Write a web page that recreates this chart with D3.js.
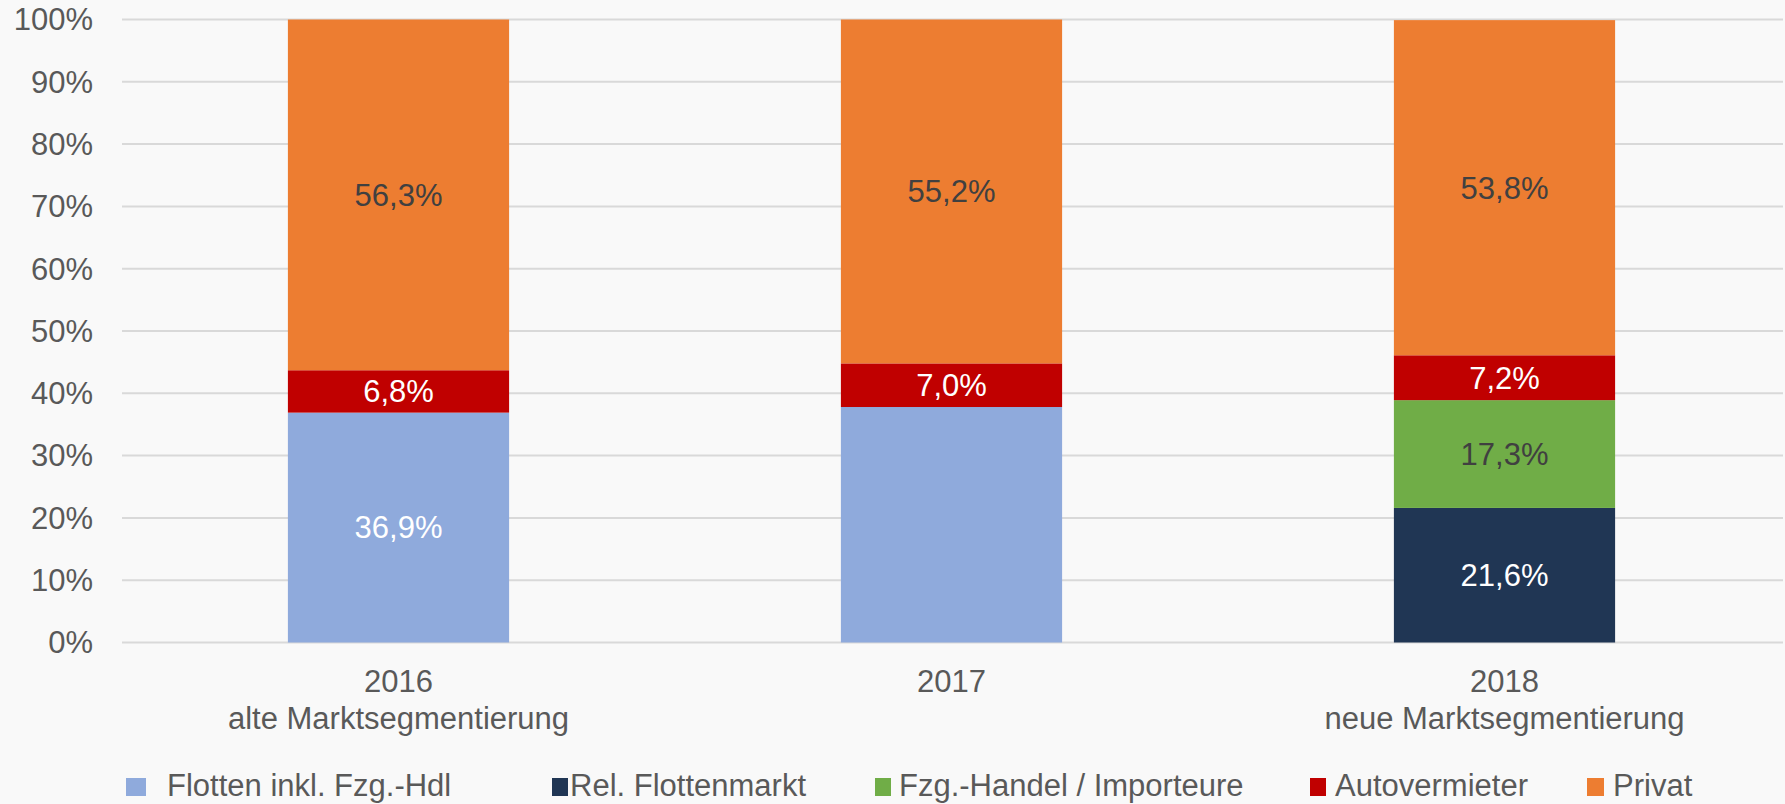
<!DOCTYPE html>
<html>
<head>
<meta charset="utf-8">
<script src="https://cdn.jsdelivr.net/npm/d3@7"></script>
<style>
	html, body { margin: 0; padding: 0; background: #f9f9f9; }
	svg { display: block; font-family: "Liberation Sans", Arial, sans-serif; }
</style>
</head>
<body>
<div id="chart"></div>
<script>

// categories (two lines each)
var years    = ["2016", "2017", "2018"];
var subtitle = ["alte Marktsegmentierung", "", "neue Marktsegmentierung"];

// series, bottom to top
var series   = ["Flotten inkl. Fzg.-Hdl", "Rel. Flottenmarkt", "Fzg.-Handel / Importeure", "Autovermieter", "Privat"];
var flotten  = [36.9, 37.8, 0];
var relFlot  = [0, 0, 21.6];
var handel   = [0, 0, 17.3];
var vermiet  = [6.8, 7.0, 7.2];
var privat   = [56.3, 55.2, 53.8];

var colors     = ["#8faadc", "#203654", "#70ad47", "#c00000", "#ed7d31"];
var labelColor = ["#ffffff", "#ffffff", "#404040", "#ffffff", "#404040"];

// label of the 2017 fleet segment is not shown in the original
var hiddenLabels = [[1, 0]];

var yTicks = [0, 10, 20, 30, 40, 50, 60, 70, 80, 90, 100];

var values = [flotten, relFlot, handel, vermiet, privat];

var width  = 1785,
	height = 804;

var x = d3.scaleBand()
	.domain(years)
	.range([122, 1781])
	.paddingInner(0.6)
	.paddingOuter(0.3);

var y = d3.scaleLinear()
	.domain([0, 100])
	.range([642.5, 19.5]);

var svg = d3.select("#chart")
	.append("svg")
	.attr("width", width)
	.attr("height", height);

// grid lines
svg.append("g")
	.selectAll("line")
	.data(yTicks)
	.join("line")
	.attr("x1", 122)
	.attr("x2", 1783)
	.attr("y1", function(d) { return y(d); })
	.attr("y2", function(d) { return y(d); })
	.attr("stroke", "#d9d9d9")
	.attr("stroke-width", 2);

// y axis labels
svg.append("g")
	.selectAll("text")
	.data(yTicks)
	.join("text")
	.attr("x", 93)
	.attr("y", function(d) { return y(d); })
	.attr("dy", "0.35em")
	.attr("text-anchor", "end")
	.attr("font-size", 31)
	.attr("fill", "#595959")
	.text(function(d) { return d + "%"; });

// stacked segments
var rows = years.map(function(yr, i) {
	var row = { year: yr };
	series.forEach(function(s, k) { row[s] = values[k][i]; });
	return row;
});

var stack = d3.stack().keys(series)(rows);

var layers = svg.append("g")
	.selectAll("g")
	.data(stack)
	.join("g")
	.attr("fill", function(d, k) { return colors[k]; });

layers.selectAll("rect")
	.data(function(d) { return d; })
	.join("rect")
	.filter(function(d) { return d[1] - d[0] > 0; })
	.attr("x", function(d) { return x(d.data.year); })
	.attr("y", function(d) { return y(d[1]); })
	.attr("width", x.bandwidth())
	.attr("height", function(d) { return y(d[0]) - y(d[1]); });

function isHidden(i, k) {
	return hiddenLabels.some(function(h) { return h[0] === i && h[1] === k; });
}

stack.forEach(function(layer, k) {
	layer.forEach(function(d, i) {
		var v = d[1] - d[0];
		if (v <= 0 || isHidden(i, k)) return;
		svg.append("text")
			.attr("x", x(d.data.year) + x.bandwidth() / 2)
			.attr("y", y((d[0] + d[1]) / 2))
			.attr("dy", "0.35em")
			.attr("text-anchor", "middle")
			.attr("font-size", 31)
			.attr("fill", labelColor[k])
			.text(d3.format(".1f")(values[k][i]).replace(".", ",") + "%");
	});
});

// category labels
var cat = svg.append("g")
	.selectAll("text")
	.data(years)
	.join("text")
	.attr("x", function(d) { return x(d) + x.bandwidth() / 2; })
	.attr("y", 692)
	.attr("text-anchor", "middle")
	.attr("font-size", 31)
	.attr("fill", "#595959");

cat.append("tspan")
	.attr("x", function(d) { return x(d) + x.bandwidth() / 2; })
	.text(function(d) { return d; });

cat.append("tspan")
	.attr("x", function(d) { return x(d) + x.bandwidth() / 2; })
	.attr("dy", 37)
	.text(function(d, i) { return subtitle[i]; });

// legend (layout only)
var legendMarkX = [126, 552, 875, 1310, 1587],
	legendMarkW = [20, 16, 16, 16, 17],
	legendTextX = [167, 570, 899, 1335, 1613];

var legend = svg.append("g")
	.selectAll("g")
	.data(series)
	.join("g");

legend.append("rect")
	.attr("x", function(d, k) { return legendMarkX[k]; })
	.attr("y", 778)
	.attr("width", function(d, k) { return legendMarkW[k]; })
	.attr("height", 18)
	.attr("fill", function(d, k) { return colors[k]; });

legend.append("text")
	.attr("x", function(d, k) { return legendTextX[k]; })
	.attr("y", 796)
	.attr("font-size", 31)
	.attr("fill", "#595959")
	.text(function(d) { return d; });

</script>
</body>
</html>
